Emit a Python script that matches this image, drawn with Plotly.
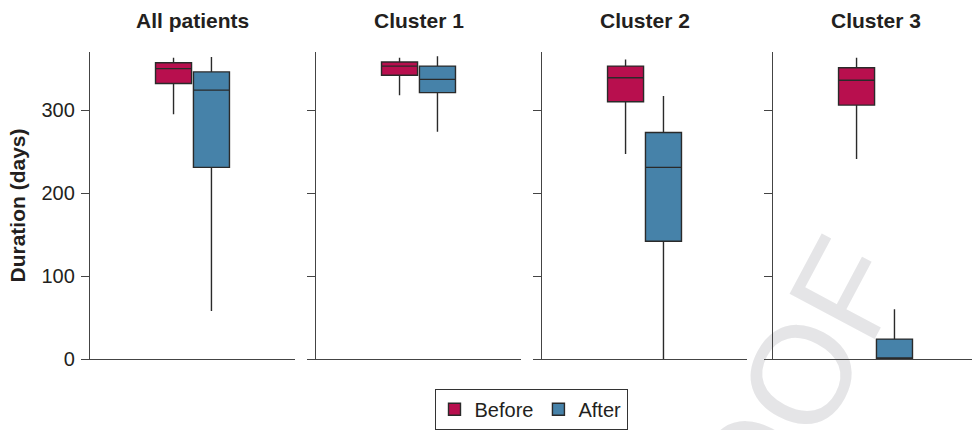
import plotly.graph_objects as go

# Panel names and box-plot statistics (days) per group
groups = ["All patients", "Cluster 1", "Cluster 2", "Cluster 3"]

before_lower = [295, 318, 247, 241]
before_q1 = [332, 342, 310, 306]
before_median = [350, 353, 339, 336]
before_q3 = [357, 358, 353, 351]
before_upper = [363, 363, 361, 363]

after_lower = [58, 274, 0, 0]
after_q1 = [231, 321, 142, 0]
after_median = [324, 337, 231, 0]
after_q3 = [346, 353, 273, 24]
after_upper = [364, 365, 317, 60]

y_ticks = [0, 100, 200, 300]
y_range = [0, 370]

BEFORE_COLOR = "#B80F4E"
AFTER_COLOR = "#4682A9"
EDGE = "#2a2a2a"
TEXT = "#231f20"
AXIS = "#444444"
FONT = "Liberation Sans, Arial, sans-serif"

domains = [(0.0, 0.2324), (0.2562, 0.4887), (0.5125, 0.7449), (0.7744, 1.0)]
x_ranges = [[-0.5, 0.5], [-0.5, 0.5], [-0.5, 0.5], [-0.5, 0.4707]]

fig = go.Figure()

series = [
    ("Before", BEFORE_COLOR, before_lower, before_q1, before_median, before_q3, before_upper),
    ("After", AFTER_COLOR, after_lower, after_q1, after_median, after_q3, after_upper),
]

for i, g in enumerate(groups):
    suffix = "" if i == 0 else str(i + 1)
    for name, color, lo, q1, med, q3, hi in series:
        fig.add_trace(go.Box(
            name=name,
            legendgroup=name,
            showlegend=(i == 0),
            offsetgroup=name,
            x=[g],
            lowerfence=[lo[i]],
            q1=[q1[i]],
            median=[med[i]],
            q3=[q3[i]],
            upperfence=[hi[i]],
            fillcolor=color,
            line=dict(color=EDGE, width=1.4),
            whiskerwidth=0,
            boxpoints=False,
            xaxis="x" + suffix,
            yaxis="y" + suffix,
        ))

layout = dict(
    width=972,
    height=430,
    margin=dict(l=90, r=0, t=52, b=71),
    paper_bgcolor="white",
    plot_bgcolor="white",
    boxmode="group",
    boxgap=0.63,
    boxgroupgap=0.05,
    font=dict(family=FONT, color=TEXT, size=20),
    showlegend=True,
    legend=dict(
        orientation="h",
        x=0.5, xanchor="center",
        y=-0.097, yanchor="top",
        bordercolor="#333333", borderwidth=1,
        font=dict(size=20, family=FONT, color=TEXT),
        itemwidth=30,
    ),
)

for i, g in enumerate(groups):
    suffix = "" if i == 0 else str(i + 1)
    layout["xaxis" + suffix] = dict(
        domain=list(domains[i]),
        anchor="y" + suffix,
        type="category",
        range=x_ranges[i],
        showline=True, linecolor=AXIS, linewidth=1.3,
        ticks="", showticklabels=False,
        showgrid=False, zeroline=False,
        fixedrange=True,
    )
    yax = dict(
        anchor="x" + suffix,
        range=y_range,
        tickvals=y_ticks,
        ticks="outside", ticklen=8, tickwidth=1.3, tickcolor=AXIS,
        showline=True, linecolor=AXIS, linewidth=1.3,
        showgrid=False, zeroline=False,
        showticklabels=(i == 0),
        tickfont=dict(size=20, family=FONT, color=TEXT),
        ticklabelstandoff=2,
        fixedrange=True,
    )
    if i == 0:
        yax["title"] = dict(
            text="<b>Duration (days)</b>",
            font=dict(size=21, family=FONT, color=TEXT),
            standoff=10,
        )
    layout["yaxis" + suffix] = yax

fig.update_layout(**layout)

# Panel titles
for i, g in enumerate(groups):
    x0, x1 = domains[i]
    if i == 3:
        x1 = x0 + (x1 - x0) * (1.0 / 0.9707)
    fig.add_annotation(
        text="<b>%s</b>" % g,
        xref="paper", yref="paper",
        x=(x0 + x1) / 2, y=1,
        xanchor="center", yanchor="middle",
        yshift=32,
        showarrow=False,
        font=dict(size=21, family=FONT, color=TEXT),
    )

# Faint diagonal watermark, kept beneath the axes
fig.add_shape(
    type="rect",
    xref="paper", yref="paper",
    x0=0.725, x1=0.745, y0=-0.354, y1=-0.334,
    line=dict(width=0),
    fillcolor="rgba(0,0,0,0)",
    layer="below",
    label=dict(
        text="PROOF",
        textangle=-62,
        textposition="middle center",
        font=dict(size=140, family=FONT, color="#e5e5e7"),
    ),
)

fig.write_html("out.html")
